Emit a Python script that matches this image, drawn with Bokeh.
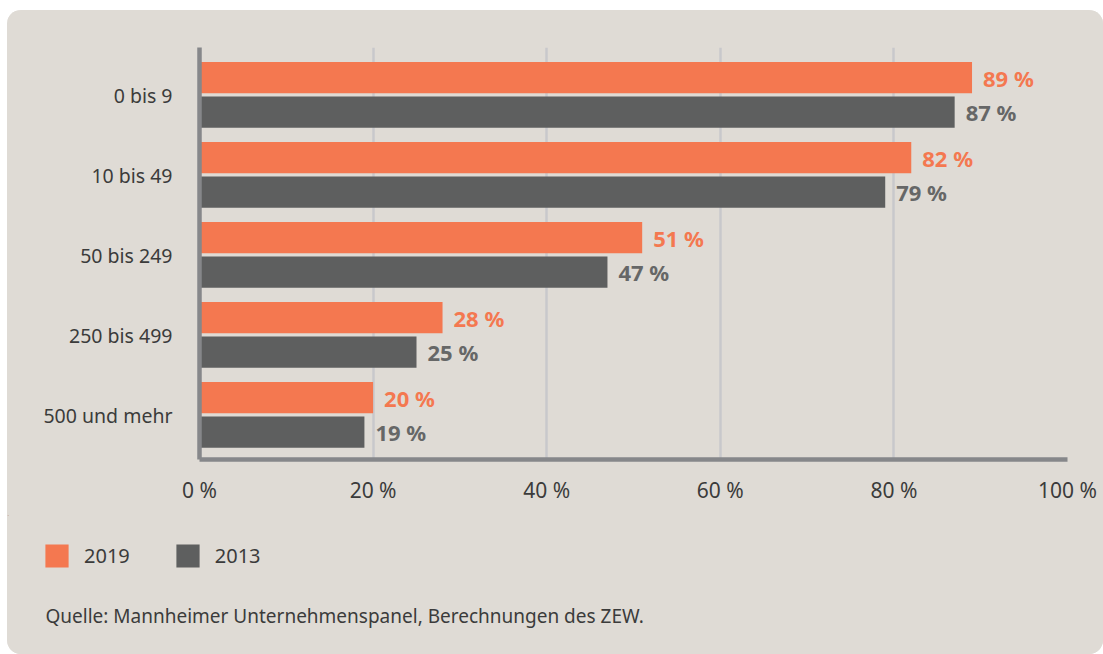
from bokeh.plotting import figure
from bokeh.layouts import column
from bokeh.models import Range1d, FixedTicker, Legend, LegendItem
from bokeh.core.properties import value
from bokeh.embed import file_html
from bokeh.resources import INLINE

categories = ["0 bis 9", "10 bis 49", "50 bis 249", "250 bis 499", "500 und mehr"]
values_2019 = [89, 82, 51, 28, 20]
values_2013 = [87, 79, 47, 25, 19]
x_ticks = [0, 20, 40, 60, 80, 100]
x_tick_labels = ["0 %", "20 %", "40 %", "60 %", "80 %", "100 %"]
series_names = ["2019", "2013"]
source_note = "Quelle: Mannheimer Unternehmenspanel, Berechnungen des ZEW."

BG = "#dfdbd5"
ORANGE = "#f47850"
DARK = "#5e5f5f"
TEXT = "#3b3b3b"
FONT = "Noto Sans"
OX, OY = 7, 10          # panel offset inside the page
W = 1096
H1 = 505
H2 = 139

n = len(categories)
idx = list(range(n))
y19 = [i - 0.217 for i in idx]
y13 = [i + 0.215 for i in idx]

p = figure(width=W, height=H1, output_backend="svg", toolbar_location=None,
           x_range=Range1d(0, 100), y_range=Range1d(n - 1 + 0.556, -0.594),
           min_border_left=199 - OX, min_border_right=W - (1067 - OX), min_border_top=47 - OY,
           min_border_bottom=H1 - (459 - OY))
p.frame_align = False
p.background_fill_color = BG
p.border_fill_color = BG
p.outline_line_color = None

p.hbar(y=y19, right=values_2019, left=0, height=0.39, color=ORANGE, line_color=None)
p.hbar(y=y13, right=values_2013, left=0, height=0.39, color=DARK, line_color=None)

p.text(x=values_2019, y=y19, text=[f"{v} %" for v in values_2019], x_offset=11,
       text_baseline="middle", text_align="left", text_color=ORANGE,
       text_font=value(FONT), text_font_style="bold", text_font_size="22px")
p.text(x=values_2013, y=y13, text=[f"{v} %" for v in values_2013], x_offset=11,
       text_baseline="middle", text_align="left", text_color="#666767",
       text_font=value(FONT), text_font_style="bold", text_font_size="22px")

p.xaxis.ticker = FixedTicker(ticks=x_ticks)
p.xaxis.major_label_overrides = {t: l for t, l in zip(x_ticks, x_tick_labels)}
p.yaxis.ticker = FixedTicker(ticks=idx)
p.yaxis.major_label_overrides = {i: c for i, c in zip(idx, categories)}
for ax in (p.xaxis, p.yaxis):
    ax.axis_line_color = "#86878a"
    ax.axis_line_width = 4.5
    ax.major_tick_line_color = None
    ax.minor_tick_line_color = None
    ax.major_label_text_font = FONT
    ax.major_label_text_color = TEXT
p.xaxis.major_label_text_font_size = "21px"
p.yaxis.major_label_text_font_size = "19.5px"
p.xaxis.major_label_standoff = 10
p.yaxis.major_label_standoff = 21

p.xgrid.ticker = FixedTicker(ticks=x_ticks[1:])
p.xgrid.grid_line_color = "#c8c8cb"
p.xgrid.grid_line_width = 2.5
p.ygrid.grid_line_color = None

# legend + source note panel
p2 = figure(width=W, height=H2, output_backend="svg", toolbar_location=None,
            x_range=Range1d(0, W), y_range=Range1d(H2, 0),
            x_axis_location=None, y_axis_location=None,
            min_border=0, min_border_left=0, min_border_right=0,
            min_border_top=0, min_border_bottom=0)
p2.frame_align = False
p2.grid.visible = False
p2.background_fill_color = BG
p2.border_fill_color = BG
p2.outline_line_color = None

g19 = p2.hbar(y=[-50], right=[1], height=1, color=ORANGE, line_color=None)
g13 = p2.hbar(y=[-50], right=[1], height=1, color=DARK, line_color=None)
legend = Legend(items=[LegendItem(label=series_names[0], renderers=[g19]),
                       LegendItem(label=series_names[1], renderers=[g13])],
                orientation="horizontal", location=(42 - OX, 84),
                glyph_width=29, glyph_height=29, label_standoff=13, spacing=43,
                padding=0, margin=0, border_line_color=None, background_fill_alpha=0,
                label_text_font=FONT, label_text_font_size="20px", label_text_color=TEXT)
p2.add_layout(legend, "center")

p2.text(x=[45 - OX], y=[615 - OY - H1], text=[source_note], text_baseline="middle",
        text_align="left", text_color=TEXT, text_font=value(FONT), text_font_size="19px")

layout = column(p, p2, spacing=0,
                styles={"border-radius": "14px", "overflow": "hidden", "background-color": BG,
                        "margin-left": f"{OX}px", "margin-top": f"{OY}px"})

open("out.html", "w").write(file_html(layout, INLINE))
